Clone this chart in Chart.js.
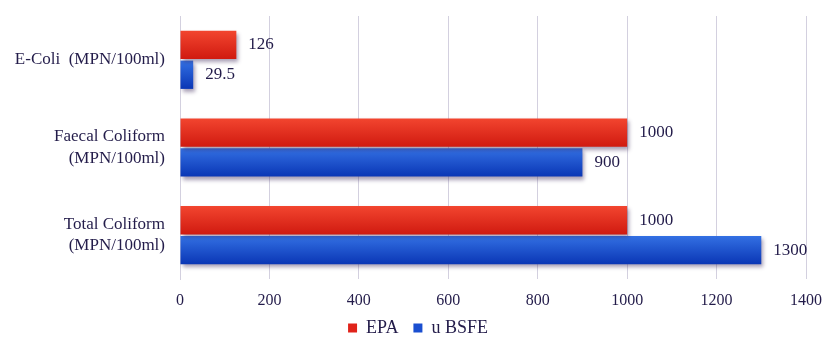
<!DOCTYPE html>
<html>
<head>
<meta charset="utf-8">
<script src="https://cdn.jsdelivr.net/npm/chart.js@4.4.1/dist/chart.umd.min.js"></script>
<style>
  html, body { margin: 0; padding: 0; background: #fff; }
  #wrap { width: 822px; height: 338px; }
</style>
</head>
<body>
<div id="wrap"><canvas id="c"></canvas></div>
<script>
var categories = [
  "E-Coli  (MPN/100ml)",
  ["Faecal Coliform", "(MPN/100ml)"],
  ["Total Coliform", "(MPN/100ml)"]
];
var epaValues = [126, 1000, 1000];
var bsfeValues = [29.5, 900, 1300];
var xTicks = [0, 200, 400, 600, 800, 1000, 1200, 1400];

var textColor = "#231c4a";
var gridColor = "#d3d0df";
var serif = "'Times New Roman', 'Liberation Serif', 'DejaVu Serif', serif";
Chart.defaults.font.family = serif;

var gradStops = [
  ["#f2452f", "#d01a10"],
  ["#3370e3", "#0a36b5"]
];

// gradient fill + soft shadow under every bar
var barLook = {
  id: "barLook",
  beforeDatasetsDraw: function (chart) {
    var c = chart.ctx;
    chart.data.datasets.forEach(function (ds, i) {
      chart.getDatasetMeta(i).data.forEach(function (bar) {
        var h = bar.height;
        var g = c.createLinearGradient(0, bar.y - h / 2, 0, bar.y + h / 2);
        g.addColorStop(0, gradStops[i][0]);
        g.addColorStop(1, gradStops[i][1]);
        bar.options.backgroundColor = g;
      });
    });
    c.save();
    c.shadowColor = "rgba(60, 40, 90, 0.45)";
    c.shadowBlur = 4;
    c.shadowOffsetX = 2;
    c.shadowOffsetY = 3;
  },
  afterDatasetsDraw: function (chart) {
    chart.ctx.restore();
  }
};

var valueLabels = {
  id: "valueLabels",
  afterDatasetsDraw: function (chart) {
    var c = chart.ctx;
    c.save();
    c.font = "17px " + serif;
    c.fillStyle = textColor;
    c.textBaseline = "middle";
    c.textAlign = "left";
    chart.data.datasets.forEach(function (ds, i) {
      chart.getDatasetMeta(i).data.forEach(function (bar, j) {
        c.fillText(String(ds.data[j]), bar.x + 12, bar.y);
      });
    });
    c.restore();
  }
};

// scriptable colour so each bar gets its own options object
function ownColor(col) {
  return function () { return col; };
}

new Chart(document.getElementById("c"), {
  type: "bar",
  data: {
    labels: categories,
    datasets: [
      {
        label: "EPA",
        data: epaValues,
        backgroundColor: ownColor("#e0231a"),
        categoryPercentage: 0.68,
        barPercentage: 0.95
      },
      {
        label: "u BSFE",
        data: bsfeValues,
        backgroundColor: ownColor("#1a4fd0"),
        categoryPercentage: 0.68,
        barPercentage: 0.95
      }
    ]
  },
  options: {
    responsive: true,
    maintainAspectRatio: false,
    animation: false,
    indexAxis: "y",
    layout: { padding: { top: 16, right: 0, left: 14, bottom: -9 } },
    plugins: {
      tooltip: { enabled: false },
      legend: {
        position: "bottom",
        labels: {
          color: textColor,
          font: { family: serif, size: 18 },
          boxWidth: 9,
          boxHeight: 9,
          padding: 6,
          generateLabels: function (chart) {
            var cols = ["#e0231a", "#1a4fd0"];
            return chart.data.datasets.map(function (ds, i) {
              return {
                text: i === 0 ? ds.label + "\u00a0\u00a0" : ds.label,
                fillStyle: cols[i],
                strokeStyle: cols[i],
                lineWidth: 0,
                datasetIndex: i,
                fontColor: textColor
              };
            });
          }
        }
      }
    },
    scales: {
      x: {
        min: 0,
        max: 1400,
        afterBuildTicks: function (axis) {
          axis.ticks = xTicks.map(function (v) { return { value: v }; });
        },
        afterFit: function (axis) {
          axis.height = 34;
          axis.paddingLeft = 0;
          axis.paddingRight = 16;
        },
        grid: { color: gridColor, drawTicks: false },
        border: { display: false },
        ticks: {
          color: textColor,
          font: { family: serif, size: 16 },
          padding: 12,
          callback: function (v) { return String(v); }
        }
      },
      y: {
        afterFit: function (axis) {
          axis.width = 166;
          axis.paddingTop = 0;
          axis.paddingBottom = 0;
        },
        grid: { display: false },
        border: { display: true, color: gridColor },
        ticks: {
          color: textColor,
          font: { family: serif, size: 17, lineHeight: 1.25 },
          padding: 7
        }
      }
    }
  },
  plugins: [barLook, valueLabels]
});
</script>
</body>
</html>
